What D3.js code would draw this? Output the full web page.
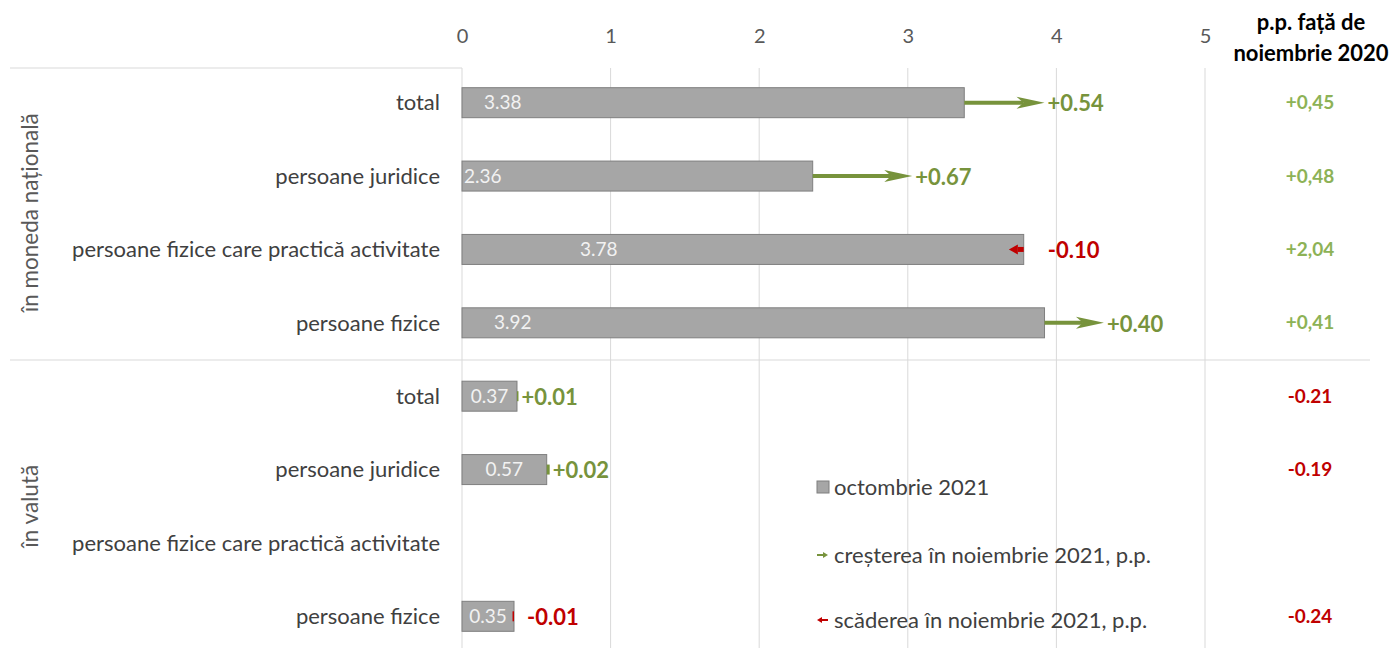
<!DOCTYPE html>
<html>
<head>
<meta charset="utf-8">
<script src="https://cdn.jsdelivr.net/npm/d3@7"></script>
<style>
  body { margin: 0; background: #fff; }
  svg text { font-family: Lato, "Open Sans", sans-serif; }
</style>
</head>
<body>
<div id="main"></div>
<script>
// ---- data ----
var groups = ["în moneda națională", "în valută"];
var categories = ["total", "persoane juridice", "persoane fizice care practică activitate", "persoane fizice"];
var octValues = [3.38, 2.36, 3.78, 3.92, 0.37, 0.57, null, 0.35];   // octombrie 2021
var novChange = [0.54, 0.67, -0.10, 0.40, 0.01, 0.02, null, -0.01]; // noiembrie 2021, p.p.
var yoyChange = [0.45, 0.48, 2.04, 0.41, -0.21, -0.19, null, -0.24]; // p.p. fata de noiembrie 2020
var xTicks = [0, 1, 2, 3, 4, 5];
var legendLabels = ["octombrie 2021", "creșterea în noiembrie 2021, p.p.", "scăderea în noiembrie 2021, p.p."];
var headerLines = ["p.p. față de", "noiembrie 2020"];

// ---- layout ----
var ctx = {
    w: 1395,
    h: 648,
    barH: 30,
    green: "#77933C",
    red: "#C00000",
    lightGreen: "#8DB256",
    // inner offset for the value label of the long bars (as placed in the source)
    labelDx: [22, 2, 118, 32]
};

var rows = [];
groups.forEach(function(g, gi){
    categories.forEach(function(c, ci){
        var i = gi * categories.length + ci;
        rows.push({i: i, group: g, cat: c, oct: octValues[i], chg: novChange[i], yoy: yoyChange[i]});
    });
});

var svg = d3.select("#main").append("svg")
    .attr("width", ctx.w).attr("height", ctx.h);

var x = d3.scaleLinear().domain([0, 5]).range([462, 1205]);
var y = d3.scalePoint().domain(rows.map(function(d){ return d.i; }))
    .range([66, 653]).padding(0.5);

var bkg = svg.append("g");

// vertical gridlines
bkg.selectAll("line.grid").data(xTicks).enter().append("line")
    .attr("x1", function(d){ return x(d); }).attr("x2", function(d){ return x(d); })
    .attr("y1", 68).attr("y2", ctx.h)
    .attr("stroke", "#D9D9D9").attr("stroke-width", 1);

// top axis labels
var axis = bkg.append("g").attr("transform", "translate(0,43)")
    .call(d3.axisTop(x).tickValues(xTicks).tickFormat(d3.format("d")).tickSize(0).tickPadding(0));
axis.select(".domain").remove();
axis.selectAll("text")
    .style("font-family", "Lato, sans-serif")
    .attr("font-size", 20).attr("fill", "#595959");

// horizontal separators
bkg.append("line").attr("x1", 10).attr("x2", x(0)).attr("y1", 68).attr("y2", 68)
    .attr("stroke", "#D9D9D9");
bkg.append("line").attr("x1", 10).attr("x2", 1370).attr("y1", 360).attr("y2", 360)
    .attr("stroke", "#D9D9D9");

// group labels (rotated)
var groupY = [
    (y(0) + y(3)) / 2,
    (y(4) + y(7)) / 2
];
groups.forEach(function(g, gi){
    svg.append("text")
        .attr("transform", "translate(38," + groupY[gi] + ") rotate(-90)")
        .attr("text-anchor", "middle")
        .attr("font-size", 22.5).attr("fill", "#595959")
        .text(g);
});

// category labels
svg.selectAll("text.cat").data(rows).enter().append("text")
    .attr("class", "cat")
    .attr("x", 440).attr("y", function(d){ return y(d.i); })
    .attr("dy", "0.35em").attr("text-anchor", "end")
    .attr("font-size", 22).attr("fill", "#404040")
    .text(function(d){ return d.cat; });

var withBar = rows.filter(function(d){ return d.oct != null; });

// bars
svg.selectAll("rect.bar").data(withBar).enter().append("rect")
    .attr("x", x(0))
    .attr("y", function(d){ return y(d.i) - ctx.barH / 2; })
    .attr("width", function(d){ return x(d.oct) - x(0); })
    .attr("height", ctx.barH)
    .attr("fill", "#A6A6A6").attr("stroke", "#7F7F7F").attr("stroke-width", 1);

// values inside bars
svg.selectAll("text.val").data(withBar).enter().append("text")
    .attr("x", function(d){
        if (d.oct > 1) return x(0) + ctx.labelDx[d.i % 4];
        return (x(0) + x(d.oct)) / 2;
    })
    .attr("text-anchor", function(d){ return d.oct > 1 ? "start" : "middle"; })
    .attr("y", function(d){ return y(d.i); }).attr("dy", "0.35em")
    .attr("font-size", 19).attr("fill", "#F2F2F2")
    .text(function(d){ return d.oct.toFixed(2); });

// arrows for the monthly change
var arrows = svg.append("g");
withBar.forEach(function(d){
    var x0 = x(d.oct), x1 = x(d.oct + d.chg), cy = y(d.i);
    var up = d.chg > 0;
    var col = up ? ctx.green : ctx.red;
    var len = Math.abs(x1 - x0);
    var dir = up ? 1 : -1;
    if (len > 5) {
        var headL = up ? 28 : 9;
        var notch = up ? 7 : 0;
        var hh = up ? 6 : 5;
        var xb = x1 - dir * headL;
        arrows.append("line")
            .attr("x1", x0).attr("x2", xb + dir * notch).attr("y1", cy).attr("y2", cy)
            .attr("stroke", col).attr("stroke-width", up ? 4 : 5);
        arrows.append("path")
            .attr("d", "M" + x1 + "," + cy + "L" + xb + "," + (cy - hh) +
                       "L" + (xb + dir * notch) + "," + cy +
                       "L" + xb + "," + (cy + hh) + "Z")
            .attr("fill", col);
    } else {
        // tiny change: just a short tick at the bar end
        arrows.append("rect")
            .attr("x", Math.min(x0, x1)).attr("y", cy - 5)
            .attr("width", Math.max(len, 1.5)).attr("height", 10)
            .attr("fill", col);
    }
    var lx = up ? Math.max(x0, x1) + 3 : x0 + (len > 5 ? 24 : 13);
    arrows.append("text")
        .attr("x", lx).attr("y", cy + 1).attr("dy", "0.35em")
        .attr("font-size", 22).attr("font-weight", "bold").attr("fill", col)
        .text((up ? "+" : "") + d.chg.toFixed(2));
});

// right column header
headerLines.forEach(function(t, k){
    svg.append("text")
        .attr("x", 1311).attr("y", 22 + k * 31).attr("dy", "0.35em")
        .attr("text-anchor", "middle")
        .attr("font-size", 22).attr("font-weight", "bold").attr("fill", "#000")
        .text(t);
});

// right column values
svg.selectAll("text.yoy").data(rows.filter(function(d){ return d.yoy != null; }))
    .enter().append("text")
    .attr("x", 1310).attr("y", function(d){ return y(d.i); }).attr("dy", "0.35em")
    .attr("text-anchor", "middle")
    .attr("font-size", 19).attr("font-weight", "bold")
    .attr("fill", function(d){ return d.yoy > 0 ? ctx.lightGreen : ctx.red; })
    .text(function(d){
        return d.yoy > 0 ? "+" + d.yoy.toFixed(2).replace(".", ",") : d.yoy.toFixed(2);
    });

// legend
var legY = [487, 555, 620];
var leg = svg.append("g").attr("transform", "translate(817,0)");
leg.append("rect").attr("x", 0).attr("y", legY[0] - 6).attr("width", 12).attr("height", 12)
    .attr("fill", "#A6A6A6").attr("stroke", "#7F7F7F");
leg.append("line").attr("x1", 0).attr("x2", 7).attr("y1", legY[1]).attr("y2", legY[1])
    .attr("stroke", ctx.green).attr("stroke-width", 2);
leg.append("path").attr("d", "M11," + legY[1] + "L6," + (legY[1] - 3) + "L6," + (legY[1] + 3) + "Z")
    .attr("fill", ctx.green);
leg.append("line").attr("x1", 4).attr("x2", 11).attr("y1", legY[2]).attr("y2", legY[2])
    .attr("stroke", ctx.red).attr("stroke-width", 2);
leg.append("path").attr("d", "M0," + legY[2] + "L5," + (legY[2] - 3) + "L5," + (legY[2] + 3) + "Z")
    .attr("fill", ctx.red);
legendLabels.forEach(function(t, k){
    leg.append("text")
        .attr("x", 17).attr("y", legY[k]).attr("dy", "0.35em")
        .attr("font-size", 22).attr("fill", "#404040")
        .text(t);
});
</script>
</body>
</html>
